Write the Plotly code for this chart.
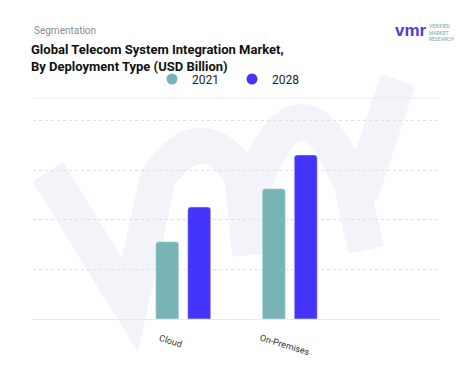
import plotly.graph_objects as go

categories = ["Cloud", "On-Premises"]
values_2021 = [1.56, 2.63]
values_2028 = [2.26, 3.31]
series_names = ["2021", "2028"]
colors = ["#78B4B6", "#4535FA"]

# the page body adds an 8px margin; positions below are given in window pixels
OFF = 8
W, H = 474 - OFF, 381 - OFF
PL, PR, PT, PB = 33, 440, 98, 319  # plot area in window pixels


def px(x, y):
    return (x - PL) / (PR - PL), (PB - y) / (PB - PT)


fig = go.Figure()
fig.add_trace(go.Bar(x=categories, y=values_2021, name=series_names[0],
                     marker=dict(color=colors[0]), showlegend=False))
fig.add_trace(go.Bar(x=categories, y=values_2028, name=series_names[1],
                     marker=dict(color=colors[1]), showlegend=False))
# legend entries with circle markers
for n, c in zip(series_names, colors):
    fig.add_trace(go.Scatter(x=[None], y=[None], mode="markers", name=n,
                             marker=dict(color=c, size=11, symbol="circle")))

lx, ly = px(152, 79)
fig.update_layout(
    width=W, height=H,
    margin=dict(l=PL - OFF, r=W - (PR - OFF), t=PT - OFF, b=H - (PB - OFF), autoexpand=False),
    paper_bgcolor="white", plot_bgcolor="rgba(0,0,0,0)",
    barmode="group", bargap=0.4, bargroupgap=0.28, barcornerradius=3,
    font=dict(family="Roboto, Arial, sans-serif", color="#222"),
    legend=dict(orientation="h", x=lx, xanchor="left", y=ly, yanchor="middle",
                font=dict(size=12, color="#222"), entrywidth=35, itemwidth=30,
                bgcolor="rgba(0,0,0,0)"),
    xaxis=dict(range=[-1.41, 2.41], showgrid=False, showline=True, linecolor="#E8E8EE",
               linewidth=1, showticklabels=False, automargin=False,
               ticks="", zeroline=False, fixedrange=True),
    yaxis=dict(range=[0, 4.46], dtick=1, showgrid=True, gridcolor="#E0E0E8", griddash="dot",
               gridwidth=1, showticklabels=False, zeroline=False, fixedrange=True,
               automargin=False),
)

# category labels (rotated)
label_shift = [-13, -5]
label_y = [341, 345]
for cat, dx, yy in zip(categories, label_shift, label_y):
    fig.add_annotation(text=cat, x=cat, xref="x", y=px(0, yy)[1], yref="paper",
                       xshift=dx, textangle=17, showarrow=False,
                       xanchor="center", yanchor="middle",
                       font=dict(size=9, color="#333"))

# top border line
fig.add_shape(type="line", xref="paper", yref="paper", x0=0, x1=1, y0=1, y1=1,
              line=dict(color="#EDEDF2", width=1))

# watermark (decorative "vmr" stroke, drawn below the bars)
pts = [
    ("M", 48, 172), ("L", 130, 305), ("L", 158, 178),
    ("Q", 200, 115, 242, 175), ("L", 250, 255),
    ("M", 247, 205), ("Q", 296, 50, 352, 185), ("L", 366, 250),
    ("M", 360, 195), ("L", 398, 80),
]
path = ""
for p in pts:
    cmd = p[0]
    coords = p[1:]
    parts = []
    for i in range(0, len(coords), 2):
        xx, yy = px(coords[i], coords[i + 1])
        parts.append(f"{xx:.4f},{yy:.4f}")
    path += cmd + " " + " ".join(parts) + " "
fig.add_shape(type="path", path=path, xref="paper", yref="paper", layer="below",
              line=dict(color="#F3F3FA", width=36))

fig.add_annotation(text="Segmentation", xref="paper", yref="paper", x=px(32, 0)[0], y=px(0, 31)[1],
                   xanchor="left", yanchor="middle", showarrow=False,
                   font=dict(size=10, color="#8C8C8C"))
fig.add_annotation(text="<b>Global Telecom System Integration Market,<br>By Deployment Type (USD Billion)</b>",
                   xref="paper", yref="paper", x=px(29, 0)[0], y=px(0, 40)[1], xanchor="left", yanchor="top",
                   align="left", showarrow=False,
                   font=dict(size=13, color="#111"))
# logo
fig.add_annotation(text="<b>vmr</b>", xref="paper", yref="paper", x=px(393, 0)[0], y=px(0, 31)[1],
                   xanchor="left", yanchor="middle", showarrow=False,
                   font=dict(size=17, color="#4A3AE0", family="Arial"))
fig.add_annotation(text="VERIFIED<br>MARKET<br>RESEARCH", xref="paper", yref="paper", x=px(427, 0)[0], y=px(0, 33)[1],
                   xanchor="left", yanchor="middle", align="left", showarrow=False,
                   font=dict(size=5, color="#6AA9B0"))

fig.write_html("out.html")
